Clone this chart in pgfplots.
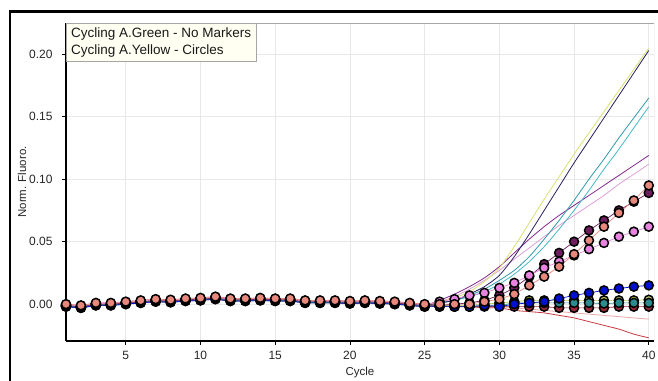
\documentclass[border=0pt]{standalone}
\usepackage{pgfplots}
\pgfplotsset{compat=1.18}
\usepackage{pgfplotstable}
\usepackage{fontspec}
\setmainfont{Liberation Sans}

\definecolor{salc}{RGB}{232,136,124}
\definecolor{plumc}{RGB}{110,30,94}
\definecolor{orchc}{RGB}{232,132,224}
\definecolor{bluec}{RGB}{0,16,208}
\definecolor{tealc}{RGB}{42,140,140}
\definecolor{ygrnc}{RGB}{184,200,80}
\definecolor{dredc}{RGB}{154,40,56}
\definecolor{navyc}{RGB}{42,32,96}
\definecolor{yelc}{RGB}{216,224,112}
\definecolor{cyac}{RGB}{48,152,168}
\definecolor{cybc}{RGB}{72,184,200}
\definecolor{purpc}{RGB}{130,40,140}
\definecolor{pinkc}{RGB}{224,160,216}
\definecolor{redc}{RGB}{200,56,64}
\definecolor{lredc}{RGB}{232,168,168}
\definecolor{legfill}{RGB}{255,255,242}

\pgfplotstableread{
x sal plum orch blue teal ygrn dred navy yel cyA cyB purp pink red lred
1 0.000 -0.001 -0.0005 -0.002 -0.0015 -0.001 -0.002 -0.001 -0.0005 -0.0015 -0.002 -0.001 0.000 -0.0015 -0.001
2 -0.001 -0.002 -0.0015 -0.003 -0.0025 -0.002 -0.003 -0.002 -0.0015 -0.0025 -0.003 -0.002 -0.001 -0.0025 -0.002
3 0.001 0.000 0.0005 -0.001 -0.0005 0.000 -0.001 0.000 0.0005 -0.0005 -0.001 0.000 0.001 -0.0005 0.000
4 0.001 0.000 0.0005 -0.001 -0.0005 0.000 -0.001 0.000 0.0005 -0.0005 -0.001 0.000 0.001 -0.0005 0.000
5 0.002 0.001 0.0015 0.000 0.0005 0.001 0.000 0.001 0.0015 0.0005 0.000 0.001 0.002 0.0005 0.001
6 0.003 0.002 0.0025 0.001 0.0015 0.002 0.001 0.002 0.0025 0.0015 0.001 0.002 0.003 0.0015 0.002
7 0.004 0.003 0.0035 0.002 0.0025 0.003 0.002 0.003 0.0035 0.0025 0.002 0.003 0.004 0.0025 0.003
8 0.0035 0.0025 0.003 0.0015 0.002 0.0025 0.0015 0.0025 0.003 0.002 0.0015 0.0025 0.0035 0.002 0.0025
9 0.0045 0.0035 0.004 0.0025 0.003 0.0035 0.0025 0.0035 0.004 0.003 0.0025 0.0035 0.0045 0.003 0.0035
10 0.005 0.004 0.0045 0.003 0.0035 0.004 0.003 0.004 0.0045 0.0035 0.003 0.004 0.005 0.0035 0.004
11 0.006 0.005 0.0055 0.004 0.0045 0.005 0.004 0.005 0.0055 0.0045 0.004 0.005 0.006 0.0045 0.005
12 0.0045 0.0035 0.004 0.0025 0.003 0.0035 0.0025 0.0035 0.004 0.003 0.0025 0.0035 0.0045 0.003 0.0035
13 0.0045 0.0035 0.004 0.0025 0.003 0.0035 0.0025 0.0035 0.004 0.003 0.0025 0.0035 0.0045 0.003 0.0035
14 0.005 0.004 0.0045 0.003 0.0035 0.004 0.003 0.004 0.0045 0.0035 0.003 0.004 0.005 0.0035 0.004
15 0.0045 0.0035 0.004 0.0025 0.003 0.0035 0.0025 0.0035 0.004 0.003 0.0025 0.0035 0.0045 0.003 0.0035
16 0.0045 0.0035 0.004 0.0025 0.003 0.0035 0.0025 0.0035 0.004 0.003 0.0025 0.0035 0.0045 0.003 0.0035
17 0.003 0.002 0.0025 0.001 0.0015 0.002 0.001 0.002 0.0025 0.0015 0.001 0.002 0.003 0.0015 0.002
18 0.003 0.002 0.0025 0.001 0.0015 0.002 0.001 0.002 0.0025 0.0015 0.001 0.002 0.003 0.0015 0.002
19 0.003 0.002 0.0025 0.001 0.0015 0.002 0.001 0.002 0.0025 0.0015 0.001 0.002 0.003 0.0015 0.002
20 0.0025 0.0015 0.002 0.0005 0.001 0.0015 0.0005 0.0015 0.002 0.001 0.0005 0.0015 0.0025 0.001 0.0015
21 0.003 0.002 0.0025 0.001 0.0015 0.002 0.001 0.002 0.0025 0.0015 0.001 0.002 0.003 0.0015 0.002
22 0.0025 0.0015 0.002 0.0005 0.001 0.0015 0.0005 0.0015 0.002 0.001 0.0005 0.0015 0.0025 0.001 0.0015
23 0.002 0.001 0.0015 0.000 0.0005 0.001 0.000 0.001 0.0015 0.0005 0.000 0.001 0.002 0.0005 0.001
24 0.001 0.000 0.0005 -0.001 -0.0005 0.000 -0.001 0.000 0.0005 -0.0005 -0.001 0.000 0.001 -0.0005 0.000
25 0.000 -0.001 -0.0005 -0.002 -0.0015 -0.001 -0.002 -0.001 -0.0005 -0.0015 -0.002 -0.001 0.000 -0.0015 -0.001
26 0.000 -0.001 0.002 -0.002 -0.0015 -0.001 -0.002 0.001 0.002 0.001 0.001 0.003 0.002 -0.001 -0.001
27 0.000 0.000 0.004 -0.002 -0.002 -0.001 -0.002 0.003 0.005 0.003 0.003 0.008 0.006 -0.002 -0.001
28 0.000 0.001 0.007 -0.002 -0.002 -0.001 -0.002 0.008 0.010 0.007 0.006 0.014 0.012 -0.002 -0.002
29 0.002 0.003 0.009 -0.001 -0.001 0.000 -0.002 0.014 0.018 0.012 0.010 0.021 0.019 -0.003 -0.002
30 0.004 0.007 0.013 -0.002 -0.001 0.001 -0.002 0.023 0.029 0.019 0.016 0.030 0.027 -0.003 -0.002
31 0.008 0.013 0.017 0.000 0.001 0.002 -0.002 0.038 0.046 0.027 0.024 0.041 0.036 -0.005 -0.003
32 0.015 0.022 0.023 0.001 0.001 0.003 -0.002 0.056 0.065 0.038 0.034 0.052 0.045 -0.006 -0.004
33 0.022 0.032 0.029 0.002 0.001 0.003 -0.002 0.075 0.084 0.052 0.046 0.062 0.054 -0.007 -0.005
34 0.030 0.041 0.034 0.0045 0.001 0.003 -0.003 0.094 0.102 0.067 0.060 0.071 0.063 -0.009 -0.006
35 0.040 0.050 0.039 0.007 0.001 0.003 -0.003 0.113 0.120 0.083 0.075 0.079 0.071 -0.011 -0.007
36 0.051 0.059 0.044 0.009 0.001 0.003 -0.003 0.131 0.137 0.100 0.091 0.087 0.079 -0.014 -0.008
37 0.062 0.067 0.049 0.011 0.0005 0.003 -0.003 0.149 0.154 0.116 0.108 0.095 0.087 -0.017 -0.009
38 0.073 0.075 0.054 0.0125 0.001 0.003 -0.002 0.167 0.171 0.133 0.124 0.103 0.096 -0.020 -0.010
39 0.083 0.082 0.058 0.014 0.001 0.003 -0.002 0.185 0.188 0.149 0.141 0.111 0.104 -0.024 -0.011
40 0.095 0.089 0.062 0.015 0.001 0.0035 -0.002 0.203 0.205 0.165 0.158 0.119 0.112 -0.027 -0.012
}\data

\pgfplotsset{
  circ/.style={#1, line width=0.7pt, mark=*, mark size=4.5pt,
    mark options={fill=#1, draw=black, line width=1.5pt, solid}, forget plot},
  lin/.style={#1, line width=0.8pt, smooth, tension=0.4, forget plot}
}

\begin{document}
\begin{tikzpicture}[x=1pt,y=1pt]
\draw[line width=2.6pt] (10,-30) -- (10,368.7) -- (700,368.7);
\begin{axis}[
  at={(66pt,39pt)}, anchor=south west,
  scale only axis, width=588pt, height=318pt,
  xmin=1, xmax=40.35, ymin=-0.0295, ymax=0.225,
  axis x line*=bottom, axis y line*=left,
  axis line style={line width=2.4pt, black, -},
  tick align=outside, major tick length=4pt,
  tick style={black, line width=0.6pt},
  xtick={5,10,15,20,25,30,35,40},
  ytick={0,0.05,0.1,0.15,0.2},
  scaled y ticks=false,
  /pgf/number format/assume math mode=true,
  yticklabel style={/pgf/number format/fixed, /pgf/number format/fixed zerofill,
    /pgf/number format/precision=2, xshift=-6pt},
  xticklabel style={yshift=-5pt, inner sep=1pt},
  ticklabel style={font=\fontsize{12}{14}\selectfont, text=black!85},
  grid=major, major grid style={gray!18, line width=0.7pt},
  xlabel={Cycle}, ylabel={Norm. Fluoro.},
  label style={font=\fontsize{11.5}{13}\selectfont, text=black!85, inner sep=1pt},
  xlabel style={at={(axis description cs:0.5,-0.099)}, anchor=center},
  ylabel style={at={(axis description cs:-0.075,0.5)}, anchor=center},
  legend style={at={(0,1)}, anchor=north west, draw=gray!70, fill=legfill,
    font=\fontsize{13.5}{16}\selectfont, inner xsep=3pt, inner ysep=2.5pt,
    row sep=2pt, text=black!90},
  legend cell align=left,
]
\addlegendimage{empty legend}\addlegendentry{Cycling A.Green - No Markers}
\addlegendimage{empty legend}\addlegendentry{Cycling A.Yellow - Circles}

\addplot[lin=lredc] table[x=x,y=lred]{\data};
\addplot[lin=redc] table[x=x,y=red]{\data};
\addplot[lin=pinkc] table[x=x,y=pink]{\data};
\addplot[lin=purpc] table[x=x,y=purp]{\data};
\addplot[lin=cybc] table[x=x,y=cyB]{\data};
\addplot[lin=cyac] table[x=x,y=cyA]{\data};
\addplot[lin=yelc] table[x=x,y=yel]{\data};
\addplot[lin=navyc] table[x=x,y=navy]{\data};

\addplot[circ=dredc] table[x=x,y=dred]{\data};
\addplot[circ=ygrnc] table[x=x,y=ygrn]{\data};
\addplot[circ=tealc] table[x=x,y=teal]{\data};
\addplot[circ=bluec] table[x=x,y=blue]{\data};
\addplot[circ=plumc] table[x=x,y=plum]{\data};
\addplot[circ=orchc] table[x=x,y=orch]{\data};
\addplot[circ=salc] table[x=x,y=sal]{\data};

\draw[gray!70, line width=0.8pt] (rel axis cs:0,1) -- (rel axis cs:1,1) -- (rel axis cs:1,0);
\end{axis}
\pgfresetboundingbox
\path[use as bounding box] (0,0) rectangle (658,380);
\end{tikzpicture}
\end{document}
